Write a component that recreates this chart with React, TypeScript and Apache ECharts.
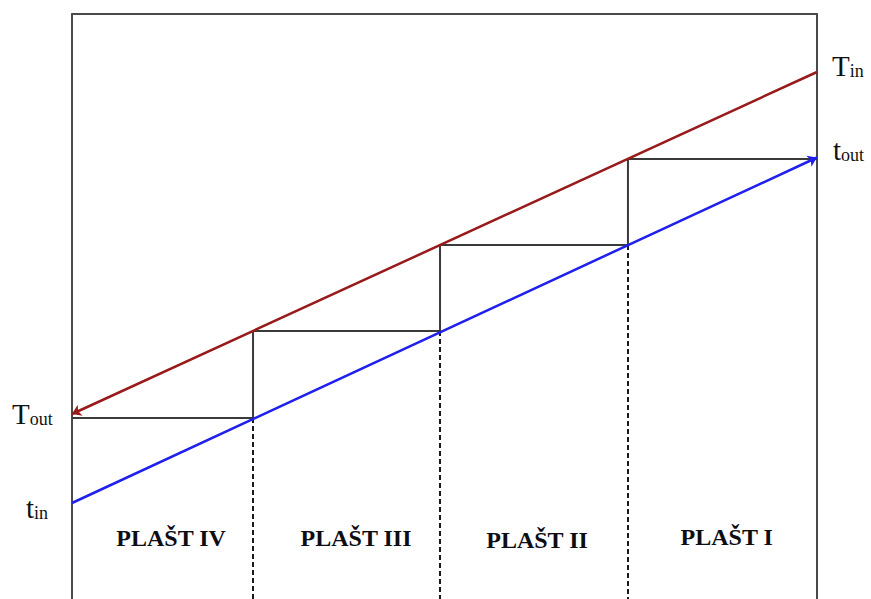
import React, { useEffect, useRef } from "react";
import * as echarts from "echarts";

// x: shell position (0..4), y: temperature (arbitrary units)
const hotLine = [[4.0, 106.4], [0, 38.0]]; // T_in -> T_out
const coldLine = [[0, 20.2], [4.0, 89.3]]; // t_in -> t_out
const stepX = [0, 0.972, 0.972, 1.976, 1.976, 2.985, 2.985, 4.0];
const stepY = [37.2, 37.2, 54.6, 54.6, 71.8, 71.8, 89.0, 89.0];
const dividerX = [0.972, 1.976, 2.985];
const dividerTop = [37.2, 54.6, 71.8];
const shellNames = ["PLAŠT IV", "PLAŠT III", "PLAŠT II", "PLAŠT I"];
const shellX = [0.532, 1.525, 2.497, 3.515];
const shellY = [13.3, 13.2, 12.8, 13.4];

const SERIF = "'Liberation Serif', 'Times New Roman', serif";
const FRAME = { show: true, onZero: false, lineStyle: { color: "#4a4a4a", width: 2 } };

export default function App() {
  const ref = useRef<HTMLDivElement>(null);
  useEffect(() => {
    if (!ref.current) return;
    const chart = echarts.init(ref.current, null, { renderer: "svg" });

    const sub = (main: string, s: string, x: number, y: number) => ({
      type: "text",
      x,
      y,
      style: {
        text: `{a|${main}}{b|${s}}`,
        verticalAlign: "bottom",
        rich: {
          a: { fontSize: 29, fontFamily: SERIF, fill: "#111", verticalAlign: "bottom", lineHeight: 30 },
          b: { fontSize: 18, fontFamily: SERIF, fill: "#111", verticalAlign: "bottom", lineHeight: 27 },
        },
      },
    });

    const hiddenParts = {
      axisTick: { show: false },
      axisLabel: { show: false },
      splitLine: { show: false },
    };

    chart.setOption({
      animation: false,
      grid: { left: 72, right: 54, top: 14, bottom: 0 },
      xAxis: { type: "value", min: 0, max: 4, position: "top", axisLine: FRAME, ...hiddenParts },
      yAxis: [
        { type: "value", min: 1, max: 118, position: "left", axisLine: FRAME, ...hiddenParts },
        { type: "value", min: 1, max: 118, position: "right", axisLine: FRAME, ...hiddenParts },
      ],
      series: [
        {
          type: "line",
          data: stepX.map((x, i) => [x, stepY[i]]),
          symbol: "none",
          lineStyle: { color: "#3a3a3a", width: 2 },
          z: 2,
        },
        {
          type: "lines",
          coordinateSystem: "cartesian2d",
          data: dividerX.map((x, i) => ({ coords: [[x, dividerTop[i]], [x, 1]] })),
          symbol: "none",
          lineStyle: { color: "#1a1a1a", width: 2, type: [5, 3], opacity: 1 },
          z: 1,
        },
        {
          type: "lines",
          coordinateSystem: "cartesian2d",
          data: [{ coords: hotLine }],
          symbol: ["none", "arrow"],
          symbolSize: 9,
          lineStyle: { color: "#981a1a", width: 2.5, opacity: 1 },
          z: 3,
        },
        {
          type: "lines",
          coordinateSystem: "cartesian2d",
          data: [{ coords: coldLine }],
          symbol: ["none", "arrow"],
          symbolSize: 9,
          lineStyle: { color: "#1f1fee", width: 2.5, opacity: 1 },
          z: 3,
        },
        {
          type: "scatter",
          data: shellNames.map((n, i) => ({ name: n, value: [shellX[i], shellY[i]] })),
          symbolSize: 0,
          itemStyle: { opacity: 1 },
          label: {
            show: true,
            position: "inside",
            formatter: (p: any) => p.name,
            fontFamily: SERIF,
            fontWeight: "bold",
            fontSize: 24,
            color: "#0d0d14",
            opacity: 1,
          },
        },
      ],
      graphic: [
        sub("T", "out", 12, 428),
        sub("t", "in", 26, 522),
        sub("T", "in", 832, 80),
        sub("t", "out", 833, 164),
      ],
    });
    return () => chart.dispose();
  }, []);
  return (
    <div
      ref={ref}
      style={{ position: "fixed", left: 0, top: 0, width: 871, height: 599, background: "#fff" }}
    />
  );
}
